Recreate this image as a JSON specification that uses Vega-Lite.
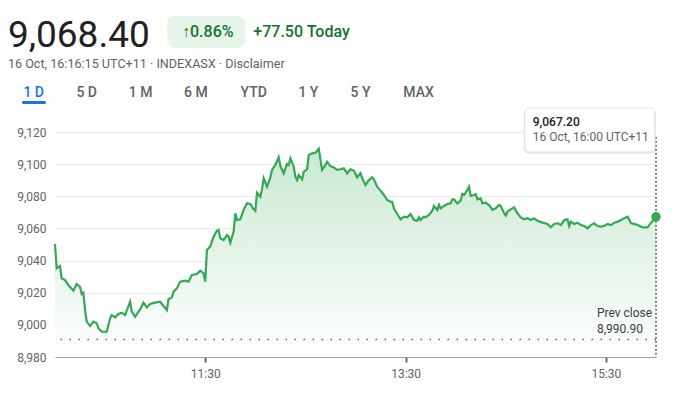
{
  "$schema": "https://vega.github.io/schema/vega-lite/v6.json",
  "width": 601,
  "height": 225,
  "autosize": {"type": "none"},
  "padding": {"left": 55, "top": 132, "right": 20, "bottom": 40},
  "background": "white",
  "config": {
    "view": {"stroke": null},
    "font": "Roboto",
    "axis": {"title": null, "labelFont": "Roboto", "labelFontSize": 12, "labelColor": "#5f6368"},
    "axisX": {"grid": false, "domainColor": "#9aa0a6", "domainWidth": 1, "ticks": true, "tickColor": "#5f6368", "tickSize": 5, "tickWidth": 2, "labelPadding": 6, "labelFlush": false, "format": "%H:%M"},
    "axisY": {"grid": true, "gridColor": "#e8eaed", "gridWidth": 1, "domain": false, "ticks": false, "labelPadding": 9, "tickCount": 8}
  },
  "data": {"values": [{}]},
  "datasets": {
    "prices": [
      {"time": "2024-10-16T10:00", "price": 9050.3},
      {"time": "2024-10-16T10:01", "price": 9035.2},
      {"time": "2024-10-16T10:03", "price": 9036.6},
      {"time": "2024-10-16T10:04", "price": 9029.0},
      {"time": "2024-10-16T10:06", "price": 9027.9},
      {"time": "2024-10-16T10:08", "price": 9024.8},
      {"time": "2024-10-16T10:11", "price": 9021.3},
      {"time": "2024-10-16T10:13", "price": 9025.4},
      {"time": "2024-10-16T10:15", "price": 9023.7},
      {"time": "2024-10-16T10:16", "price": 9019.2},
      {"time": "2024-10-16T10:17", "price": 9020.0},
      {"time": "2024-10-16T10:18", "price": 9009.2},
      {"time": "2024-10-16T10:19", "price": 9002.0},
      {"time": "2024-10-16T10:21", "price": 8999.3},
      {"time": "2024-10-16T10:23", "price": 9002.0},
      {"time": "2024-10-16T10:25", "price": 9001.0},
      {"time": "2024-10-16T10:26", "price": 8997.9},
      {"time": "2024-10-16T10:28", "price": 8995.7},
      {"time": "2024-10-16T10:31", "price": 8995.7},
      {"time": "2024-10-16T10:33", "price": 9004.1},
      {"time": "2024-10-16T10:34", "price": 9006.1},
      {"time": "2024-10-16T10:36", "price": 9004.7},
      {"time": "2024-10-16T10:38", "price": 9006.8},
      {"time": "2024-10-16T10:40", "price": 9007.6},
      {"time": "2024-10-16T10:42", "price": 9006.1},
      {"time": "2024-10-16T10:45", "price": 9014.4},
      {"time": "2024-10-16T10:46", "price": 9008.2},
      {"time": "2024-10-16T10:48", "price": 9005.1},
      {"time": "2024-10-16T10:51", "price": 9009.7},
      {"time": "2024-10-16T10:53", "price": 9013.8},
      {"time": "2024-10-16T10:55", "price": 9010.9},
      {"time": "2024-10-16T10:57", "price": 9013.0},
      {"time": "2024-10-16T11:00", "price": 9013.8},
      {"time": "2024-10-16T11:03", "price": 9014.4},
      {"time": "2024-10-16T11:05", "price": 9011.7},
      {"time": "2024-10-16T11:07", "price": 9009.2},
      {"time": "2024-10-16T11:08", "price": 9015.9},
      {"time": "2024-10-16T11:10", "price": 9017.1},
      {"time": "2024-10-16T11:11", "price": 9020.6},
      {"time": "2024-10-16T11:13", "price": 9022.7},
      {"time": "2024-10-16T11:15", "price": 9026.9},
      {"time": "2024-10-16T11:18", "price": 9027.5},
      {"time": "2024-10-16T11:20", "price": 9026.9},
      {"time": "2024-10-16T11:22", "price": 9031.0},
      {"time": "2024-10-16T11:25", "price": 9031.6},
      {"time": "2024-10-16T11:27", "price": 9033.7},
      {"time": "2024-10-16T11:29", "price": 9032.1},
      {"time": "2024-10-16T11:30", "price": 9026.9},
      {"time": "2024-10-16T11:31", "price": 9046.6},
      {"time": "2024-10-16T11:33", "price": 9048.8},
      {"time": "2024-10-16T11:35", "price": 9054.9},
      {"time": "2024-10-16T11:37", "price": 9058.6},
      {"time": "2024-10-16T11:38", "price": 9059.0},
      {"time": "2024-10-16T11:39", "price": 9053.9},
      {"time": "2024-10-16T11:41", "price": 9052.8},
      {"time": "2024-10-16T11:43", "price": 9055.9},
      {"time": "2024-10-16T11:44", "price": 9054.9},
      {"time": "2024-10-16T11:45", "price": 9051.1},
      {"time": "2024-10-16T11:47", "price": 9058.0},
      {"time": "2024-10-16T11:48", "price": 9069.4},
      {"time": "2024-10-16T11:49", "price": 9065.2},
      {"time": "2024-10-16T11:51", "price": 9065.7},
      {"time": "2024-10-16T11:53", "price": 9071.5},
      {"time": "2024-10-16T11:55", "price": 9075.6},
      {"time": "2024-10-16T11:57", "price": 9075.2},
      {"time": "2024-10-16T11:59", "price": 9071.9},
      {"time": "2024-10-16T12:00", "price": 9071.0},
      {"time": "2024-10-16T12:01", "price": 9082.2},
      {"time": "2024-10-16T12:03", "price": 9079.7},
      {"time": "2024-10-16T12:04", "price": 9084.3},
      {"time": "2024-10-16T12:05", "price": 9091.2},
      {"time": "2024-10-16T12:07", "price": 9086.0},
      {"time": "2024-10-16T12:09", "price": 9091.8},
      {"time": "2024-10-16T12:10", "price": 9096.4},
      {"time": "2024-10-16T12:12", "price": 9099.5},
      {"time": "2024-10-16T12:14", "price": 9104.3},
      {"time": "2024-10-16T12:15", "price": 9098.8},
      {"time": "2024-10-16T12:17", "price": 9094.3},
      {"time": "2024-10-16T12:19", "price": 9100.1},
      {"time": "2024-10-16T12:20", "price": 9099.5},
      {"time": "2024-10-16T12:21", "price": 9103.6},
      {"time": "2024-10-16T12:23", "price": 9098.4},
      {"time": "2024-10-16T12:24", "price": 9092.2},
      {"time": "2024-10-16T12:25", "price": 9090.1},
      {"time": "2024-10-16T12:26", "price": 9093.2},
      {"time": "2024-10-16T12:28", "price": 9090.6},
      {"time": "2024-10-16T12:29", "price": 9095.3},
      {"time": "2024-10-16T12:31", "price": 9096.8},
      {"time": "2024-10-16T12:32", "price": 9105.7},
      {"time": "2024-10-16T12:34", "price": 9106.7},
      {"time": "2024-10-16T12:36", "price": 9107.1},
      {"time": "2024-10-16T12:38", "price": 9109.5},
      {"time": "2024-10-16T12:40", "price": 9096.4},
      {"time": "2024-10-16T12:42", "price": 9099.5},
      {"time": "2024-10-16T12:43", "price": 9101.5},
      {"time": "2024-10-16T12:45", "price": 9098.8},
      {"time": "2024-10-16T12:47", "price": 9098.0},
      {"time": "2024-10-16T12:49", "price": 9096.4},
      {"time": "2024-10-16T12:51", "price": 9096.8},
      {"time": "2024-10-16T12:53", "price": 9097.4},
      {"time": "2024-10-16T12:55", "price": 9094.3},
      {"time": "2024-10-16T12:57", "price": 9096.8},
      {"time": "2024-10-16T12:59", "price": 9096.0},
      {"time": "2024-10-16T13:01", "price": 9091.8},
      {"time": "2024-10-16T13:03", "price": 9094.5},
      {"time": "2024-10-16T13:04", "price": 9091.2},
      {"time": "2024-10-16T13:06", "price": 9087.0},
      {"time": "2024-10-16T13:08", "price": 9090.1},
      {"time": "2024-10-16T13:10", "price": 9091.8},
      {"time": "2024-10-16T13:11", "price": 9090.6},
      {"time": "2024-10-16T13:13", "price": 9086.0},
      {"time": "2024-10-16T13:15", "price": 9083.5},
      {"time": "2024-10-16T13:17", "price": 9080.8},
      {"time": "2024-10-16T13:19", "price": 9077.7},
      {"time": "2024-10-16T13:21", "price": 9076.6},
      {"time": "2024-10-16T13:22", "price": 9076.6},
      {"time": "2024-10-16T13:23", "price": 9072.5},
      {"time": "2024-10-16T13:25", "price": 9069.0},
      {"time": "2024-10-16T13:27", "price": 9065.7},
      {"time": "2024-10-16T13:29", "price": 9067.3},
      {"time": "2024-10-16T13:31", "price": 9066.9},
      {"time": "2024-10-16T13:33", "price": 9069.0},
      {"time": "2024-10-16T13:35", "price": 9065.2},
      {"time": "2024-10-16T13:37", "price": 9064.8},
      {"time": "2024-10-16T13:38", "price": 9066.9},
      {"time": "2024-10-16T13:39", "price": 9065.2},
      {"time": "2024-10-16T13:41", "price": 9067.3},
      {"time": "2024-10-16T13:42", "price": 9066.9},
      {"time": "2024-10-16T13:44", "price": 9068.4},
      {"time": "2024-10-16T13:46", "price": 9071.0},
      {"time": "2024-10-16T13:47", "price": 9074.0},
      {"time": "2024-10-16T13:49", "price": 9071.5},
      {"time": "2024-10-16T13:50", "price": 9074.6},
      {"time": "2024-10-16T13:51", "price": 9072.5},
      {"time": "2024-10-16T13:53", "price": 9074.0},
      {"time": "2024-10-16T13:55", "price": 9075.2},
      {"time": "2024-10-16T13:57", "price": 9075.6},
      {"time": "2024-10-16T13:58", "price": 9078.1},
      {"time": "2024-10-16T13:59", "price": 9078.1},
      {"time": "2024-10-16T14:01", "price": 9075.6},
      {"time": "2024-10-16T14:03", "price": 9077.3},
      {"time": "2024-10-16T14:04", "price": 9081.4},
      {"time": "2024-10-16T14:05", "price": 9080.8},
      {"time": "2024-10-16T14:07", "price": 9083.9},
      {"time": "2024-10-16T14:08", "price": 9086.0},
      {"time": "2024-10-16T14:09", "price": 9080.2},
      {"time": "2024-10-16T14:11", "price": 9080.8},
      {"time": "2024-10-16T14:12", "price": 9081.4},
      {"time": "2024-10-16T14:13", "price": 9078.1},
      {"time": "2024-10-16T14:15", "price": 9078.7},
      {"time": "2024-10-16T14:16", "price": 9075.6},
      {"time": "2024-10-16T14:18", "price": 9076.0},
      {"time": "2024-10-16T14:20", "price": 9074.6},
      {"time": "2024-10-16T14:22", "price": 9071.5},
      {"time": "2024-10-16T14:24", "price": 9072.5},
      {"time": "2024-10-16T14:26", "price": 9074.6},
      {"time": "2024-10-16T14:27", "price": 9074.0},
      {"time": "2024-10-16T14:29", "price": 9069.5},
      {"time": "2024-10-16T14:30", "price": 9068.0},
      {"time": "2024-10-16T14:31", "price": 9070.4},
      {"time": "2024-10-16T14:33", "price": 9071.9},
      {"time": "2024-10-16T14:35", "price": 9073.1},
      {"time": "2024-10-16T14:37", "price": 9069.4},
      {"time": "2024-10-16T14:39", "price": 9066.9},
      {"time": "2024-10-16T14:41", "price": 9065.7},
      {"time": "2024-10-16T14:43", "price": 9066.3},
      {"time": "2024-10-16T14:45", "price": 9065.2},
      {"time": "2024-10-16T14:47", "price": 9066.3},
      {"time": "2024-10-16T14:49", "price": 9064.8},
      {"time": "2024-10-16T14:52", "price": 9063.6},
      {"time": "2024-10-16T14:55", "price": 9062.8},
      {"time": "2024-10-16T14:57", "price": 9060.7},
      {"time": "2024-10-16T14:59", "price": 9062.8},
      {"time": "2024-10-16T15:01", "price": 9063.2},
      {"time": "2024-10-16T15:03", "price": 9062.1},
      {"time": "2024-10-16T15:05", "price": 9065.2},
      {"time": "2024-10-16T15:07", "price": 9065.7},
      {"time": "2024-10-16T15:08", "price": 9061.5},
      {"time": "2024-10-16T15:09", "price": 9064.2},
      {"time": "2024-10-16T15:11", "price": 9062.8},
      {"time": "2024-10-16T15:13", "price": 9063.6},
      {"time": "2024-10-16T15:15", "price": 9062.1},
      {"time": "2024-10-16T15:17", "price": 9061.5},
      {"time": "2024-10-16T15:19", "price": 9060.1},
      {"time": "2024-10-16T15:21", "price": 9062.1},
      {"time": "2024-10-16T15:23", "price": 9063.2},
      {"time": "2024-10-16T15:25", "price": 9061.5},
      {"time": "2024-10-16T15:27", "price": 9061.1},
      {"time": "2024-10-16T15:29", "price": 9061.5},
      {"time": "2024-10-16T15:31", "price": 9062.8},
      {"time": "2024-10-16T15:33", "price": 9062.1},
      {"time": "2024-10-16T15:35", "price": 9063.6},
      {"time": "2024-10-16T15:37", "price": 9064.2},
      {"time": "2024-10-16T15:39", "price": 9065.2},
      {"time": "2024-10-16T15:41", "price": 9066.3},
      {"time": "2024-10-16T15:43", "price": 9067.3},
      {"time": "2024-10-16T15:45", "price": 9063.2},
      {"time": "2024-10-16T15:47", "price": 9062.8},
      {"time": "2024-10-16T15:49", "price": 9062.1},
      {"time": "2024-10-16T15:52", "price": 9060.7},
      {"time": "2024-10-16T15:55", "price": 9060.7},
      {"time": "2024-10-16T15:57", "price": 9063.6},
      {"time": "2024-10-16T15:59", "price": 9065.7},
      {"time": "2024-10-16T16:00", "price": 9067.2}
    ],
    "last": [{"time": "2024-10-16T16:00", "price": 9067.2}]
  },
  "layer": [
    {
      "data": {"name": "prices"},
      "mark": {"type": "area", "color": {"gradient": "linear", "x1": 0, "y1": 0, "x2": 0, "y2": 1, "stops": [{"offset": 0, "color": "#cae8d2"}, {"offset": 1, "color": "#ffffff"}]}},
      "encoding": {
        "x": {"field": "time", "type": "temporal", "scale": {"domain": [{"year": 2024, "month": 10, "date": 16, "hours": 10}, {"year": 2024, "month": 10, "date": 16, "hours": 16}], "nice": false},
          "axis": {"values": [{"year": 2024, "month": 10, "date": 16, "hours": 11, "minutes": 30}, {"year": 2024, "month": 10, "date": 16, "hours": 13, "minutes": 30}, {"year": 2024, "month": 10, "date": 16, "hours": 15, "minutes": 30}], "format": "%H:%M", "title": null, "tickCount": 10}},
        "y": {"field": "price", "type": "quantitative", "scale": {"domain": [8980, 9120], "nice": false, "zero": false},
          "axis": {"values": [8980, 9000, 9020, 9040, 9060, 9080, 9100, 9120], "format": ",d", "title": null, "tickCount": 10}},
        "y2": {"datum": 8980}
      }
    },
    {
      "data": {"name": "prices"},
      "mark": {"type": "line", "color": "#34a853", "strokeWidth": 2.2},
      "encoding": {
        "x": {"field": "time", "type": "temporal", "scale": {"domain": [{"year": 2024, "month": 10, "date": 16, "hours": 10}, {"year": 2024, "month": 10, "date": 16, "hours": 16}], "nice": false}},
        "y": {"field": "price", "type": "quantitative", "scale": {"domain": [8980, 9120], "nice": false, "zero": false}}
      }
    },
    {
      "mark": {"type": "rule", "color": "#5f6368", "strokeWidth": 1.5, "strokeDash": [1.5, 7.5]},
      "encoding": {
        "y": {"datum": 8990.9, "type": "quantitative", "scale": {"domain": [8980, 9120], "nice": false, "zero": false}}
      }
    },
    {
      "mark": {"type": "rule", "color": "#80868b", "strokeWidth": 2, "strokeDash": [2, 2]},
      "encoding": {
        "x": {"datum": {"year": 2024, "month": 10, "date": 16, "hours": 16}, "type": "temporal", "scale": {"domain": [{"year": 2024, "month": 10, "date": 16, "hours": 10}, {"year": 2024, "month": 10, "date": 16, "hours": 16}], "nice": false}},
        "y": {"datum": 9117.1, "type": "quantitative", "scale": {"domain": [8980, 9120], "nice": false, "zero": false}},
        "y2": {"datum": 8980}
      }
    },
    {
      "data": {"name": "last"},
      "mark": {"type": "circle", "color": "#34a853", "size": 90, "opacity": 1},
      "encoding": {
        "x": {"field": "time", "type": "temporal", "scale": {"domain": [{"year": 2024, "month": 10, "date": 16, "hours": 10}, {"year": 2024, "month": 10, "date": 16, "hours": 16}], "nice": false}},
        "y": {"field": "price", "type": "quantitative", "scale": {"domain": [8980, 9120], "nice": false, "zero": false}}
      }
    },
    {
      "mark": {"type": "rect", "color": "#000000", "opacity": 0.1, "cornerRadius": 5},
      "encoding": {
        "x": {"datum": {"year": 2024, "month": 10, "date": 16, "hours": 14, "minutes": 40, "seconds": 48}, "type": "temporal", "scale": {"domain": [{"year": 2024, "month": 10, "date": 16, "hours": 10}, {"year": 2024, "month": 10, "date": 16, "hours": 16}], "nice": false}},
        "x2": {"datum": {"year": 2024, "month": 10, "date": 16, "hours": 16}},
        "y": {"datum": 9134.3, "type": "quantitative", "scale": {"domain": [8980, 9120], "nice": false, "zero": false}},
        "y2": {"datum": 9106.4}
      }
    },
    {
      "mark": {"type": "rect", "color": "#ffffff", "opacity": 1, "cornerRadius": 4, "stroke": "#e3e3e3", "strokeWidth": 1},
      "encoding": {
        "x": {"datum": {"year": 2024, "month": 10, "date": 16, "hours": 14, "minutes": 41, "seconds": 24}, "type": "temporal", "scale": {"domain": [{"year": 2024, "month": 10, "date": 16, "hours": 10}, {"year": 2024, "month": 10, "date": 16, "hours": 16}], "nice": false}},
        "x2": {"datum": {"year": 2024, "month": 10, "date": 16, "hours": 15, "minutes": 59, "seconds": 24}},
        "y": {"datum": 9134.9, "type": "quantitative", "scale": {"domain": [8980, 9120], "nice": false, "zero": false}},
        "y2": {"datum": 9107.6}
      }
    },
    {
      "mark": {"type": "text", "align": "left", "baseline": "alphabetic", "fontSize": 12, "fontWeight": 500, "color": "#202124", "text": "9,067.20"},
      "encoding": {
        "x": {"datum": {"year": 2024, "month": 10, "date": 16, "hours": 14, "minutes": 46, "seconds": 12}, "type": "temporal", "scale": {"domain": [{"year": 2024, "month": 10, "date": 16, "hours": 10}, {"year": 2024, "month": 10, "date": 16, "hours": 16}], "nice": false}},
        "y": {"datum": 9123.7, "type": "quantitative", "scale": {"domain": [8980, 9120], "nice": false, "zero": false}}
      }
    },
    {
      "mark": {"type": "text", "align": "left", "baseline": "alphabetic", "fontSize": 12, "color": "#5f6368", "text": "16 Oct, 16:00 UTC+11"},
      "encoding": {
        "x": {"datum": {"year": 2024, "month": 10, "date": 16, "hours": 14, "minutes": 46, "seconds": 12}, "type": "temporal", "scale": {"domain": [{"year": 2024, "month": 10, "date": 16, "hours": 10}, {"year": 2024, "month": 10, "date": 16, "hours": 16}], "nice": false}},
        "y": {"datum": 9114.6, "type": "quantitative", "scale": {"domain": [8980, 9120], "nice": false, "zero": false}}
      }
    },
    {
      "mark": {"type": "text", "align": "left", "baseline": "alphabetic", "fontSize": 12, "color": "#3c4043", "text": "Prev close"},
      "encoding": {
        "x": {"datum": {"year": 2024, "month": 10, "date": 16, "hours": 15, "minutes": 24, "seconds": 36}, "type": "temporal", "scale": {"domain": [{"year": 2024, "month": 10, "date": 16, "hours": 10}, {"year": 2024, "month": 10, "date": 16, "hours": 16}], "nice": false}},
        "y": {"datum": 9004.9, "type": "quantitative", "scale": {"domain": [8980, 9120], "nice": false, "zero": false}}
      }
    },
    {
      "mark": {"type": "text", "align": "left", "baseline": "alphabetic", "fontSize": 12, "color": "#3c4043", "text": "8,990.90"},
      "encoding": {
        "x": {"datum": {"year": 2024, "month": 10, "date": 16, "hours": 15, "minutes": 24, "seconds": 36}, "type": "temporal", "scale": {"domain": [{"year": 2024, "month": 10, "date": 16, "hours": 10}, {"year": 2024, "month": 10, "date": 16, "hours": 16}], "nice": false}},
        "y": {"datum": 8995.1, "type": "quantitative", "scale": {"domain": [8980, 9120], "nice": false, "zero": false}}
      }
    },
    {
      "mark": {"type": "text", "align": "left", "baseline": "alphabetic", "fontSize": 37, "color": "#202124", "text": "9,068.40"},
      "encoding": {
        "x": {"datum": {"year": 2024, "month": 10, "date": 16, "hours": 9, "minutes": 31, "seconds": 48}, "type": "temporal", "scale": {"domain": [{"year": 2024, "month": 10, "date": 16, "hours": 10}, {"year": 2024, "month": 10, "date": 16, "hours": 16}], "nice": false}},
        "y": {"datum": 9173.1, "type": "quantitative", "scale": {"domain": [8980, 9120], "nice": false, "zero": false}}
      }
    },
    {
      "mark": {"type": "rect", "color": "#e6f4ea", "opacity": 1, "cornerRadius": 8},
      "encoding": {
        "x": {"datum": {"year": 2024, "month": 10, "date": 16, "hours": 11, "minutes": 7, "seconds": 12}, "type": "temporal", "scale": {"domain": [{"year": 2024, "month": 10, "date": 16, "hours": 10}, {"year": 2024, "month": 10, "date": 16, "hours": 16}], "nice": false}},
        "x2": {"datum": {"year": 2024, "month": 10, "date": 16, "hours": 11, "minutes": 54}},
        "y": {"datum": 9192.2, "type": "quantitative", "scale": {"domain": [8980, 9120], "nice": false, "zero": false}},
        "y2": {"datum": 9172.3}
      }
    },
    {
      "mark": {"type": "text", "align": "center", "baseline": "alphabetic", "fontSize": 16, "fontWeight": 500, "color": "#137333", "text": "↑0.86%"},
      "encoding": {
        "x": {"datum": {"year": 2024, "month": 10, "date": 16, "hours": 11, "minutes": 31, "seconds": 30}, "type": "temporal", "scale": {"domain": [{"year": 2024, "month": 10, "date": 16, "hours": 10}, {"year": 2024, "month": 10, "date": 16, "hours": 16}], "nice": false}},
        "y": {"datum": 9179.3, "type": "quantitative", "scale": {"domain": [8980, 9120], "nice": false, "zero": false}}
      }
    },
    {
      "mark": {"type": "text", "align": "left", "baseline": "alphabetic", "fontSize": 16, "fontWeight": 500, "color": "#137333", "text": "+77.50 Today"},
      "encoding": {
        "x": {"datum": {"year": 2024, "month": 10, "date": 16, "hours": 11, "minutes": 58, "seconds": 48}, "type": "temporal", "scale": {"domain": [{"year": 2024, "month": 10, "date": 16, "hours": 10}, {"year": 2024, "month": 10, "date": 16, "hours": 16}], "nice": false}},
        "y": {"datum": 9179.3, "type": "quantitative", "scale": {"domain": [8980, 9120], "nice": false, "zero": false}}
      }
    },
    {
      "mark": {"type": "text", "align": "left", "baseline": "alphabetic", "fontSize": 12.6, "color": "#5f6368", "text": "16 Oct, 16:16:15 UTC+11 · INDEXASX · Disclaimer"},
      "encoding": {
        "x": {"datum": {"year": 2024, "month": 10, "date": 16, "hours": 9, "minutes": 31, "seconds": 48}, "type": "temporal", "scale": {"domain": [{"year": 2024, "month": 10, "date": 16, "hours": 10}, {"year": 2024, "month": 10, "date": 16, "hours": 16}], "nice": false}},
        "y": {"datum": 9159.6, "type": "quantitative", "scale": {"domain": [8980, 9120], "nice": false, "zero": false}}
      }
    },
    {
      "mark": {"type": "rect", "color": "#1a73e8", "opacity": 1, "cornerRadius": 1.5},
      "encoding": {
        "x": {"datum": {"year": 2024, "month": 10, "date": 16, "hours": 9, "minutes": 40, "seconds": 12}, "type": "temporal", "scale": {"domain": [{"year": 2024, "month": 10, "date": 16, "hours": 10}, {"year": 2024, "month": 10, "date": 16, "hours": 16}], "nice": false}},
        "x2": {"datum": {"year": 2024, "month": 10, "date": 16, "hours": 9, "minutes": 54, "seconds": 36}},
        "y": {"datum": 9139.3, "type": "quantitative", "scale": {"domain": [8980, 9120], "nice": false, "zero": false}},
        "y2": {"datum": 9137.4}
      }
    },
    {
      "mark": {"type": "text", "align": "center", "baseline": "alphabetic", "fontSize": 14, "fontWeight": 500, "color": "#1a73e8", "text": "1 D"},
      "encoding": {
        "x": {"datum": {"year": 2024, "month": 10, "date": 16, "hours": 9, "minutes": 47, "seconds": 13}, "type": "temporal", "scale": {"domain": [{"year": 2024, "month": 10, "date": 16, "hours": 10}, {"year": 2024, "month": 10, "date": 16, "hours": 16}], "nice": false}},
        "y": {"datum": 9142.0, "type": "quantitative", "scale": {"domain": [8980, 9120], "nice": false, "zero": false}}
      }
    },
    {
      "mark": {"type": "text", "align": "center", "baseline": "alphabetic", "fontSize": 14, "fontWeight": 500, "color": "#5f6368", "text": "5 D"},
      "encoding": {
        "x": {"datum": {"year": 2024, "month": 10, "date": 16, "hours": 10, "minutes": 19}, "type": "temporal", "scale": {"domain": [{"year": 2024, "month": 10, "date": 16, "hours": 10}, {"year": 2024, "month": 10, "date": 16, "hours": 16}], "nice": false}},
        "y": {"datum": 9142.0, "type": "quantitative", "scale": {"domain": [8980, 9120], "nice": false, "zero": false}}
      }
    },
    {
      "mark": {"type": "text", "align": "center", "baseline": "alphabetic", "fontSize": 14, "fontWeight": 500, "color": "#5f6368", "text": "1 M"},
      "encoding": {
        "x": {"datum": {"year": 2024, "month": 10, "date": 16, "hours": 10, "minutes": 51, "seconds": 18}, "type": "temporal", "scale": {"domain": [{"year": 2024, "month": 10, "date": 16, "hours": 10}, {"year": 2024, "month": 10, "date": 16, "hours": 16}], "nice": false}},
        "y": {"datum": 9142.0, "type": "quantitative", "scale": {"domain": [8980, 9120], "nice": false, "zero": false}}
      }
    },
    {
      "mark": {"type": "text", "align": "center", "baseline": "alphabetic", "fontSize": 14, "fontWeight": 500, "color": "#5f6368", "text": "6 M"},
      "encoding": {
        "x": {"datum": {"year": 2024, "month": 10, "date": 16, "hours": 11, "minutes": 24, "seconds": 25}, "type": "temporal", "scale": {"domain": [{"year": 2024, "month": 10, "date": 16, "hours": 10}, {"year": 2024, "month": 10, "date": 16, "hours": 16}], "nice": false}},
        "y": {"datum": 9142.0, "type": "quantitative", "scale": {"domain": [8980, 9120], "nice": false, "zero": false}}
      }
    },
    {
      "mark": {"type": "text", "align": "center", "baseline": "alphabetic", "fontSize": 14, "fontWeight": 500, "color": "#5f6368", "text": "YTD"},
      "encoding": {
        "x": {"datum": {"year": 2024, "month": 10, "date": 16, "hours": 11, "minutes": 59}, "type": "temporal", "scale": {"domain": [{"year": 2024, "month": 10, "date": 16, "hours": 10}, {"year": 2024, "month": 10, "date": 16, "hours": 16}], "nice": false}},
        "y": {"datum": 9142.0, "type": "quantitative", "scale": {"domain": [8980, 9120], "nice": false, "zero": false}}
      }
    },
    {
      "mark": {"type": "text", "align": "center", "baseline": "alphabetic", "fontSize": 14, "fontWeight": 500, "color": "#5f6368", "text": "1 Y"},
      "encoding": {
        "x": {"datum": {"year": 2024, "month": 10, "date": 16, "hours": 12, "minutes": 31, "seconds": 48}, "type": "temporal", "scale": {"domain": [{"year": 2024, "month": 10, "date": 16, "hours": 10}, {"year": 2024, "month": 10, "date": 16, "hours": 16}], "nice": false}},
        "y": {"datum": 9142.0, "type": "quantitative", "scale": {"domain": [8980, 9120], "nice": false, "zero": false}}
      }
    },
    {
      "mark": {"type": "text", "align": "center", "baseline": "alphabetic", "fontSize": 14, "fontWeight": 500, "color": "#5f6368", "text": "5 Y"},
      "encoding": {
        "x": {"datum": {"year": 2024, "month": 10, "date": 16, "hours": 13, "minutes": 3}, "type": "temporal", "scale": {"domain": [{"year": 2024, "month": 10, "date": 16, "hours": 10}, {"year": 2024, "month": 10, "date": 16, "hours": 16}], "nice": false}},
        "y": {"datum": 9142.0, "type": "quantitative", "scale": {"domain": [8980, 9120], "nice": false, "zero": false}}
      }
    },
    {
      "mark": {"type": "text", "align": "center", "baseline": "alphabetic", "fontSize": 14, "fontWeight": 500, "color": "#5f6368", "text": "MAX"},
      "encoding": {
        "x": {"datum": {"year": 2024, "month": 10, "date": 16, "hours": 13, "minutes": 37, "seconds": 48}, "type": "temporal", "scale": {"domain": [{"year": 2024, "month": 10, "date": 16, "hours": 10}, {"year": 2024, "month": 10, "date": 16, "hours": 16}], "nice": false}},
        "y": {"datum": 9142.0, "type": "quantitative", "scale": {"domain": [8980, 9120], "nice": false, "zero": false}}
      }
    }
  ]
}
